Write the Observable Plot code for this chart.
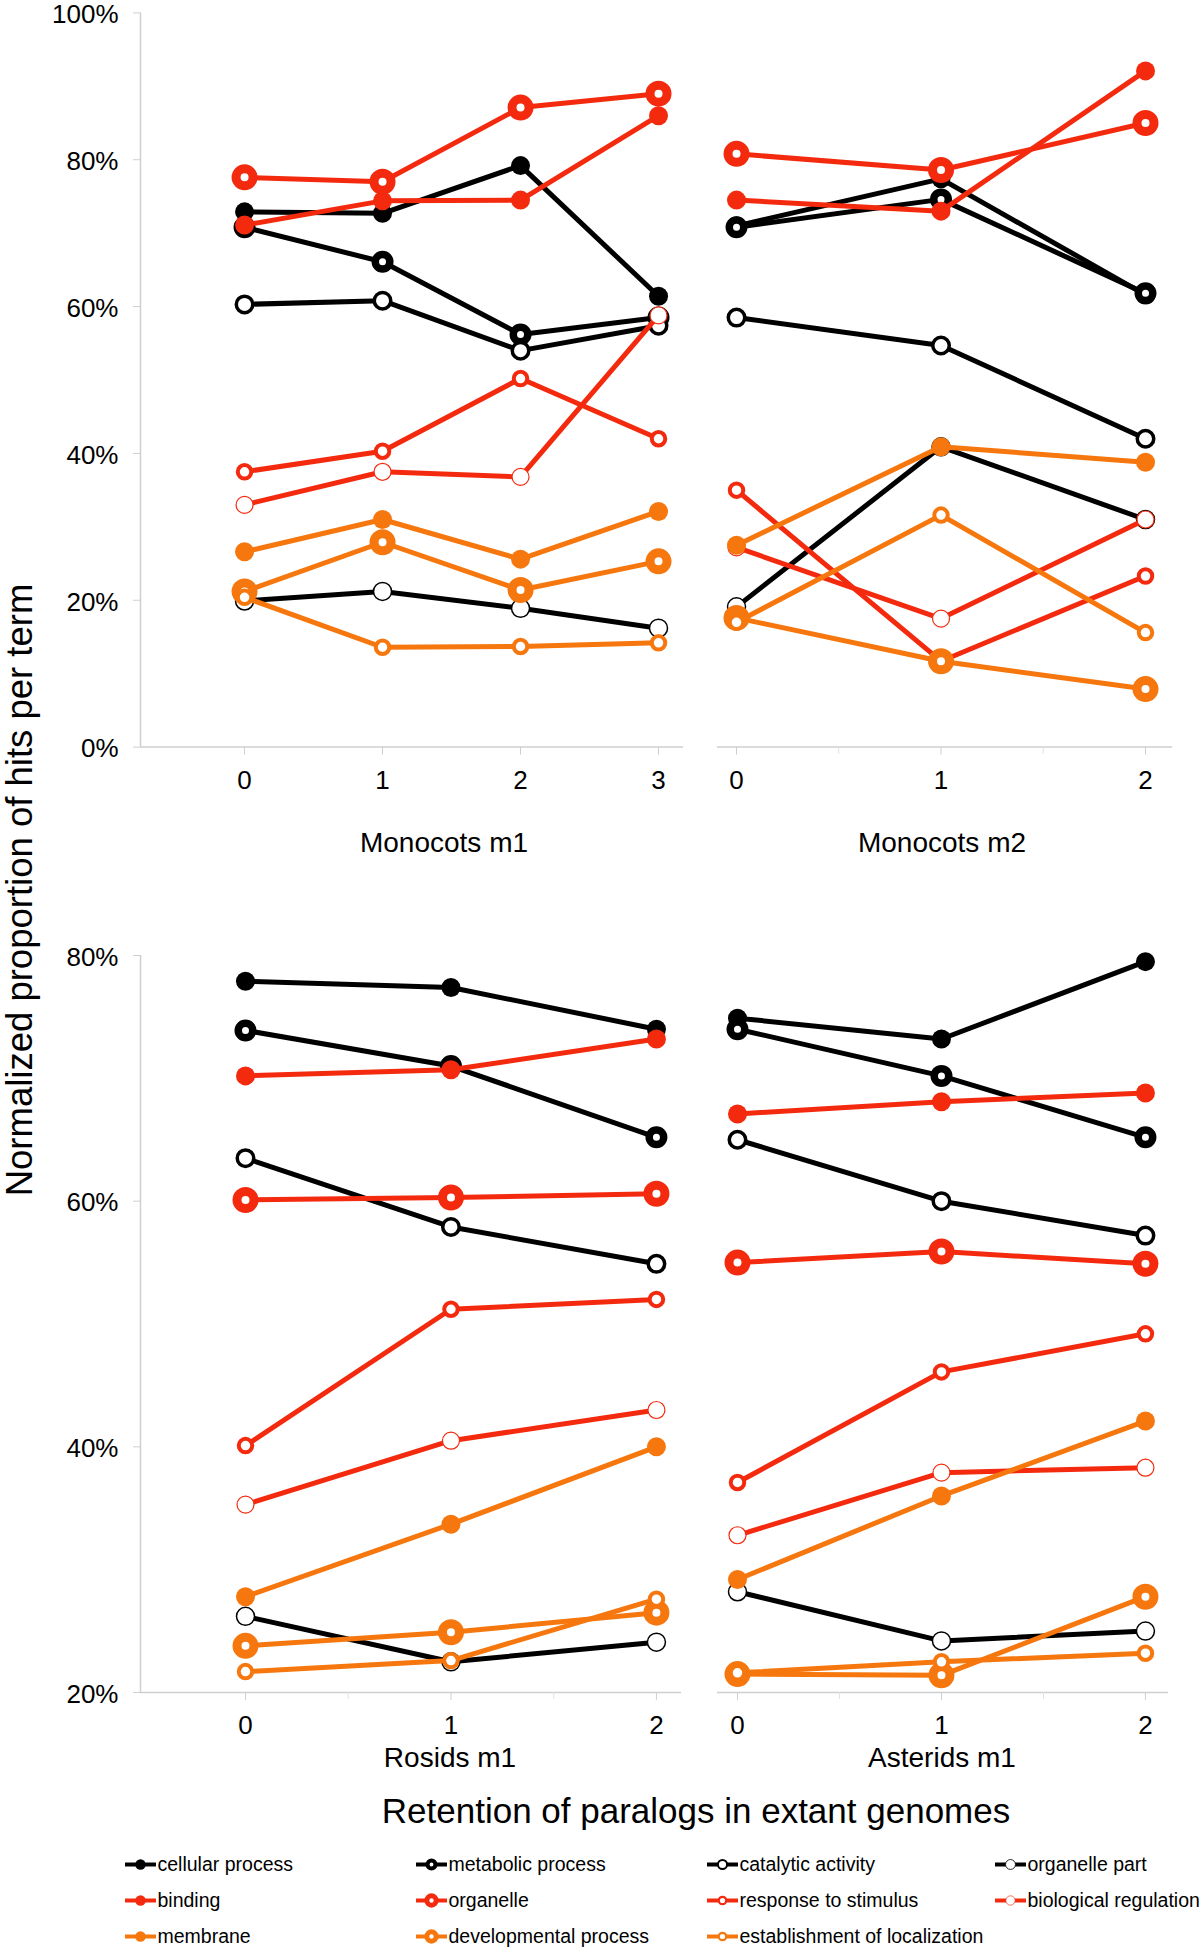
<!DOCTYPE html>
<html><head><meta charset="utf-8">
<script src="https://cdn.jsdelivr.net/npm/d3@7"></script>
<script src="https://cdn.jsdelivr.net/npm/@observablehq/plot@0.6"></script>
<style>
html,body{margin:0;padding:0;background:#fff;}
#chart{position:relative;width:1200px;height:1948px;overflow:hidden;font-family:"Liberation Sans",Arial,Helvetica,sans-serif;}
.lbl{position:absolute;transform:translate(-50%,-50%);white-space:nowrap;line-height:1;color:#000;}
</style></head><body><div id="chart"></div>
<script>
// ---------- data ----------
const seriesNames = ["cellular process","metabolic process","catalytic activity","organelle part","binding","organelle","response to stimulus","biological regulation","membrane","developmental process","establishment of localization"];
const seriesColors = ["#000000","#000000","#000000","#000000","#f42a0f","#f42a0f","#f42a0f","#f42a0f","#f6770e","#f6770e","#f6770e"];
const markerKinds = ["filled","thick","medium","thin","filled","thick","medium","thin","filled","thick","medium"];

const retention4 = [0,1,2,3];
const retention3 = [0,1,2];

const monocotsM1 = [
  [72.9,72.7,79.2,61.4],
  [70.8,66.1,56.2,58.5],
  [60.3,60.8,54.0,57.4],
  [19.9,21.2,18.9,16.2],
  [71.1,74.4,74.5,86.0],
  [77.6,77.0,87.1,89.0],
  [37.5,40.3,50.2,42.0],
  [33.0,37.5,36.8,58.8],
  [26.6,31.0,25.6,32.1],
  [21.2,27.9,21.4,25.3],
  [20.4,13.6,13.7,14.2]
];
const monocotsM2 = [
  [71.0,77.4,61.6],
  [70.8,74.6,61.8],
  [58.5,54.7,42.0],
  [19.1,40.9,31.0],
  [74.5,73.0,92.1],
  [80.8,78.6,85.0],
  [35.0,11.7,23.3],
  [27.2,17.5,31.0],
  [27.5,40.9,38.8],
  [17.6,11.7,7.9],
  [17.0,31.6,15.6]
];
const rosidsM1 = [
  [77.9,77.4,74.0],
  [73.9,71.0,65.2],
  [63.5,57.9,54.9],
  [26.2,22.5,24.1],
  [70.2,70.7,73.2],
  [60.1,60.3,60.6],
  [40.1,51.2,52.0],
  [35.3,40.5,43.0],
  [27.8,33.7,40.0],
  [23.8,24.9,26.5],
  [21.7,22.6,27.6]
];
const asteridsM1 = [
  [74.9,73.2,79.5],
  [74.0,70.2,65.2],
  [65.0,60.0,57.2],
  [28.2,24.2,25.0],
  [67.1,68.1,68.8],
  [55.0,55.9,54.9],
  [37.1,46.1,49.2],
  [32.8,37.9,38.3],
  [29.2,36.0,42.1],
  [21.5,21.4,27.8],
  [21.6,22.5,23.2]
];
const yTicksTop = [0,20,40,60,80,100];
const yTicksBottom = [20,40,60,80];
const panelTitles = ["Monocots m1","Monocots m2","Rosids m1","Asterids m1"];
const xTitle = "Retention of paralogs in extant genomes";
const yTitle = "Normalized proportion of hits per term";

// ---------- styles ----------
const FONT = "Liberation Sans, Arial, Helvetica, sans-serif";
const AXIS_GREY = "#cfcfcf";
function markerStyle(i, s = 1) {
  const kind = markerKinds[i], c = seriesColors[i], black = c === "#000000";
  if (kind === "filled") return {r: 9.5 * s, fill: c, stroke: "none"};
  if (kind === "thick") return black ? {r: 7.25 * s, fill: "#fff", stroke: c, strokeWidth: 7.5 * s}
                                     : {r: 8.5 * s, fill: "#fff", stroke: c, strokeWidth: 9 * s};
  if (kind === "medium") return black ? {r: 8.25 * s, fill: "#fff", stroke: c, strokeWidth: 3.5 * s}
                                      : {r: 6.75 * s, fill: "#fff", stroke: c, strokeWidth: 4 * s};
  return black ? {r: 9 * s, fill: "#fff", stroke: c, strokeWidth: 1.5 * s}
               : {r: 8.5 * s, fill: "#fff", stroke: c, strokeWidth: 1.2 * s};
}

const chart = document.getElementById("chart");
function place(el, left, top) {
  el.style.position = "absolute";
  el.style.left = left + "px";
  el.style.top = top + "px";
  el.style.overflow = "visible";
  chart.appendChild(el);
}

function panel(values, cats, g) {
  const rows = [];
  values.forEach((vals, i) => vals.forEach((v, j) => rows.push({idx: i, x: cats[j], y: v})));
  const marks = [];
  marks.push(Plot.ruleY([g.yDomain[0]], {stroke: AXIS_GREY, strokeWidth: 1.5}));
  if (g.yAxis) {
    marks.push(Plot.ruleX([g.xDomain[0]], {stroke: AXIS_GREY, strokeWidth: 1.5}));
    marks.push(Plot.axisY({ticks: g.yTicks, tickFormat: null, text: null, tickSize: 7, stroke: AXIS_GREY, label: null}));
    marks.push(Plot.text(g.yTicks, {x: g.xDomain[0], y: d => d, text: d => d + "%", dx: -22, dy: 2,
      textAnchor: "end", fontSize: 26, fill: "#000"}));
  }
  if (g.minor) {
    const halves = cats.slice(0, -1).map(c => c + 0.5);
    marks.push(Plot.axisX({ticks: halves, tickFormat: () => "", tickSize: 7, stroke: "#e2e2e2", label: null}));
  }
  marks.push(Plot.axisX({ticks: cats, tickFormat: d => String(d), tickSize: 8, tickPadding: 15,
    fontSize: 26, stroke: AXIS_GREY, fill: "#000", label: null}));
  seriesNames.forEach((name, i) => {
    const d = rows.filter(r => r.idx === i);
    marks.push(Plot.line(d, {x: "x", y: "y", stroke: seriesColors[i], strokeWidth: 5, strokeLinejoin: "round"}));
    marks.push(Plot.dot(d, {x: "x", y: "y", ...markerStyle(i)}));
  });
  const svg = Plot.plot({
    width: g.width, height: g.height,
    marginLeft: g.ml, marginRight: g.mr, marginTop: g.mt, marginBottom: g.mb,
    x: {domain: g.xDomain, label: null},
    y: {domain: g.yDomain, label: null, axis: g.yAxis ? undefined : null},
    style: {fontFamily: FONT, background: "transparent", overflow: "visible", color: "#000"},
    marks
  });
  place(svg, g.left, g.top);
}

panel(monocotsM1, retention4, {left: 0, top: 0, width: 700, height: 800, ml: 140, mr: 17, mt: 12.4, mb: 53.4,
  xDomain: [-0.754, 3.181], yDomain: [0, 100], yTicks: yTicksTop, yAxis: true, minor: false});
panel(monocotsM2, retention3, {left: 700, top: 0, width: 500, height: 800, ml: 17, mr: 28, mt: 12.4, mb: 53.4,
  xDomain: [-0.093, 2.132], yDomain: [0, 100], yAxis: false, minor: true});
panel(rosidsM1, retention3, {left: 0, top: 900, width: 700, height: 840, ml: 140, mr: 19, mt: 55, mb: 48,
  xDomain: [-0.511, 2.122], yDomain: [20, 80], yTicks: yTicksBottom, yAxis: true, minor: true});
panel(asteridsM1, retention3, {left: 700, top: 900, width: 500, height: 840, ml: 17, mr: 32, mt: 55, mb: 48,
  xDomain: [-0.098, 2.113], yDomain: [20, 80], yAxis: false, minor: true});

// ---------- titles ----------
function label(text, x, y, size, rotate) {
  const d = document.createElement("div");
  d.className = "lbl";
  d.textContent = text;
  d.style.left = x + "px";
  d.style.top = y + "px";
  d.style.fontSize = size + "px";
  if (rotate) d.style.transform = "translate(-50%,-50%) rotate(-90deg)";
  chart.appendChild(d);
}
label(panelTitles[0], 444, 843, 28);
label(panelTitles[1], 942, 843, 28);
label(panelTitles[2], 450, 1758, 28);
label(panelTitles[3], 942, 1758, 28);
label(xTitle, 696, 1810, 35);
label(yTitle, 20, 890, 36.5, true);

// ---------- legend ----------
const legendColX = [140, 431, 722, 1010];
const legendRowY = [24, 60, 96];
const legendMarks = [];
seriesNames.forEach((name, i) => {
  const item = [{x: legendColX[i % 4], y: legendRowY[Math.floor(i / 4)], name}];
  legendMarks.push(Plot.ruleY(item, {y: "y", x1: d => d.x - 15, x2: d => d.x + 16, stroke: seriesColors[i], strokeWidth: 4}));
  legendMarks.push(Plot.dot(item, {x: "x", y: "y", ...markerStyle(i, 0.55)}));
  legendMarks.push(Plot.text(item, {x: d => d.x + 17, y: "y", text: "name", textAnchor: "start", fontSize: 19.5, fill: "#000"}));
});
const legend = Plot.plot({
  width: 1200, height: 108, margin: 0,
  x: {type: "identity", axis: null},
  y: {type: "identity", axis: null},
  style: {fontFamily: FONT, background: "transparent", overflow: "visible"},
  marks: legendMarks
});
place(legend, 0, 1840);
</script></body></html>
